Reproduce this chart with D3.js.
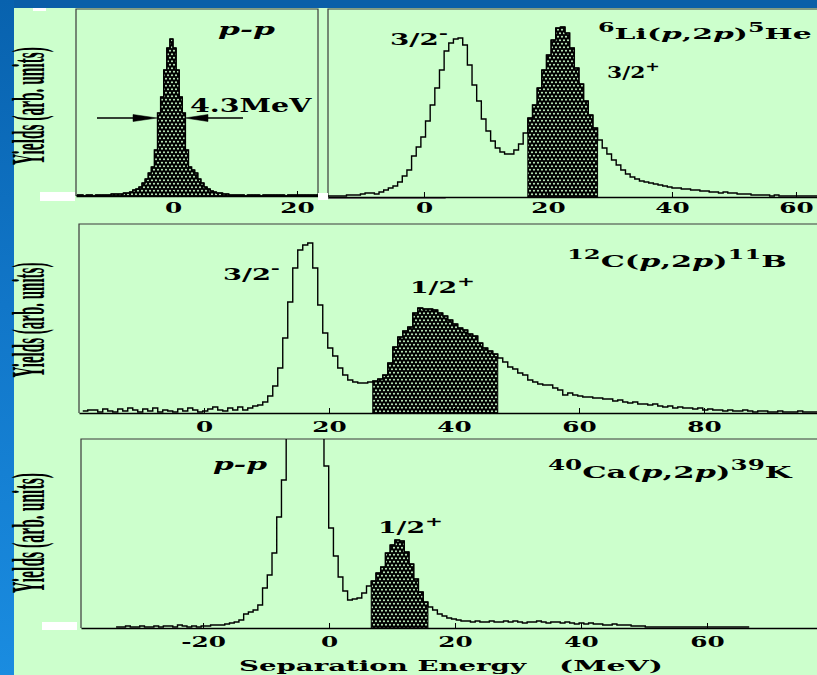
<!DOCTYPE html>
<html><head><meta charset="utf-8">
<script src="https://cdn.jsdelivr.net/npm/d3@7"></script>
<style>body{margin:0;background:#ccffcc;} svg{display:block}</style>
</head><body><svg id="c" width="817" height="675"></svg>
<script>
// ---------------- DATA ----------------
// p-p elastic peak (top-left), bins of 0.5 MeV starting at -15.5 MeV
const ppStart = -15.5, ppBin = 0.5;
const ppCounts = [1,1,0,1,1,0,1,1,1,1,1,
  2,2,2,2,3,3,4,6,7,9,13,17,23,29,46,83,99,126,148,157,
  148,126,99,83,46,29,26,23,17,13,9,7,5,4,3,3,2,2,1,1,
  1,1,1,0,1,1,1,1,0,1,1,1,1,1,1,1,0,1,1,1,1,1,1,1,1,1,1];
const ppRange = [-15.65, 23.39], ppTicks = [0, 20], ppShade = [-15.5, 24];

// 6Li(p,2p)5He (top-right), bins of 0.75 MeV starting at -15.5 MeV
const liStart = -15.5, liBin = 0.75;
const liCounts = [1,1,1,1,2,2,2,3,4,4,
  3,5,7,9,11,15,21,27,41,50,
  60,76,92,109,127,146,154,158,159,152,
  132,112,96,78,66,56,49,45,43,43,
  47,53,64,79,92,109,127,142,157,169,
  170,164,149,129,113,96,82,69,57,49,
  43,37,32,27,23,20,18,16,15,14,
  13,12,11,10,9,9,8,8,7,7,
  6,6,5,5,4,5,4,4,3,3,
  3,2,2,2,2,1,2,1,1,1,
  1,1,1,1,1,1];
const liRange = [-15.48, 63.39], liTicks = [0, 20, 40, 60], liShade = [16.75, 28];

// 12C(p,2p)11B (middle), bins of 0.8 MeV starting at -19.4 MeV
const cStart = -19.4, cBin = 0.8;
const cCounts = [2,3,3,1,4,2,1,4,2,5,
  3,1,4,2,5,1,3,2,1,4,
  2,5,3,1,2,4,6,3,2,5,
  3,6,3,5,7,8,11,17,27,45,
  75,111,145,163,168,170,145,108,80,65,
  57,45,38,33,31,30,30,31,32,34,
  38,50,66,76,82,86,100,105,104,104,
  103,100,97,93,89,85,83,79,77,70,
  65,62,59,55,51,46,44,40,38,33,
  31,29,28,28,25,23,18,20,18,17,
  16,16,15,15,14,14,12,13,11,10,
  11,9,9,8,9,7,6,7,5,6,
  5,5,4,5,3,4,3,3,2,3,
  2,2,3,2,1,2,2,1,1,2,
  1,1,1,2,1,1,1];
const cRange = [-20, 98.08], cTicks = [0, 20, 40, 60, 80], cShade = [27, 47];

// 40Ca(p,2p)39K (bottom), bins of 0.75 MeV starting at -33.8 MeV
const caStart = -33.8, caBin = 0.75;
const caCounts = [1,1,2,1,1,2,1,1,2,1,
  2,2,1,3,2,1,2,1,2,2,
  3,3,3,4,5,6,8,14,16,18,
  23,40,53,75,111,148,230,300,330,340,
  345,330,300,210,162,100,72,51,37,28,
  29,30,35,42,47,55,61,75,83,88,
  87,76,64,49,36,26,21,18,14,12,
  10,9,8,7,7,6,7,6,6,7,
  6,6,7,6,7,6,5,6,6,7,
  6,5,6,6,5,6,5,4,5,4,
  5,4,4,3,3,4,3,3,3,2,
  2,2,1,1,1,1,1,1,1,1,
  1,1,1,1,1,1,1,1,1,1,
  1,1,1,1];
const caRange = [-39.37, 77.46], caTicks = [-20, 0, 20, 40, 60], caShade = [6.7, 15.7];

const yLabelText = "Yields (arb. units)";
const xTitle = ["Separation Energy", "(MeV)"];

// ---------------- DRAWING ----------------
const SERIF = "'DejaVu Serif', serif";
const GREEN = "#ccffcc";
const svg = d3.select("#c");
const defs = svg.append("defs");

svg.append("rect").attr("width", 817).attr("height", 675).attr("fill", GREEN);
const grad = defs.append("linearGradient").attr("id", "blueg").attr("x1", 0).attr("y1", 0).attr("x2", 0).attr("y2", 1);
grad.append("stop").attr("offset", "0%").attr("stop-color", "#0862ae");
grad.append("stop").attr("offset", "45%").attr("stop-color", "#1176c8");
grad.append("stop").attr("offset", "100%").attr("stop-color", "#1a8ce0");
svg.append("rect").attr("x", 0).attr("y", 0).attr("width", 817).attr("height", 8).attr("fill", "#0a5fa8");
svg.append("rect").attr("x", 0).attr("y", 0).attr("width", 14).attr("height", 675).attr("fill", "url(#blueg)");

// cross-hatch pattern: black net with staggered diamond holes
const pat = defs.append("pattern").attr("id", "xh").attr("patternUnits", "userSpaceOnUse").attr("width", 4).attr("height", 7);
pat.append("rect").attr("width", 4).attr("height", 7).attr("fill", "#000");
pat.append("path").attr("d",
  "M2,0.5L3.2,1.75L2,3L0.8,1.75Z M0,4L1.2,5.25L0,6.5L-1.2,5.25Z M4,4L5.2,5.25L4,6.5L2.8,5.25Z")
  .attr("fill", GREEN);

function drawPanel(P) {
  const x = d3.scaleLinear().domain(P.range).range([P.left, P.right]);
  const y = d3.scaleLinear().domain([0, P.ymax]).range([P.bottom, P.top]);
  const id = "clip" + P.name;
  defs.append("clipPath").attr("id", id).append("rect")
    .attr("x", P.left).attr("y", P.top).attr("width", P.right - P.left).attr("height", P.bottom - P.top);
  const g = svg.append("g");
  g.append("path")
    .attr("d", `M${P.left},${P.bottom}V${P.top}H${P.right}` + (P.rightBorder ? `V${P.bottom}` : ""))
    .attr("fill", "none").attr("stroke", "#3a3a3a").attr("stroke-width", 1.2);
  const pts = P.counts.map((c, i) => [P.start + i * P.bin, c]);
  pts.push([P.start + P.counts.length * P.bin, P.counts[P.counts.length - 1]]);
  const i0 = Math.round((P.shade[0] - P.start) / P.bin), i1 = Math.min(P.counts.length, Math.round((P.shade[1] - P.start) / P.bin));
  const sh = pts.slice(i0, i1);
  sh.push([P.start + i1 * P.bin, P.counts[i1 - 1]]);
  const cg = g.append("g").attr("clip-path", `url(#${id})`);
  const area = d3.area().x(d => x(d[0])).y0(y(0)).y1(d => y(d[1])).curve(d3.curveStepAfter);
  cg.append("path").attr("d", area(sh)).attr("fill", "url(#xh)").attr("stroke", "#000").attr("stroke-width", 1);
  const line = d3.line().x(d => x(d[0])).y(d => y(d[1])).curve(d3.curveStepAfter);
  cg.append("path").attr("d", line(pts)).attr("fill", "none").attr("stroke", "#000").attr("stroke-width", 1.4);
  if (P.grey) {
    g.append("line").attr("x1", x(P.grey[0])).attr("x2", x(P.grey[1])).attr("y1", P.bottom + 1).attr("y2", P.bottom + 1)
      .attr("stroke", "#808080").attr("stroke-width", 2);
  }
  const ax = g.append("g").attr("transform", `translate(0,${P.bottom})`)
    .call(d3.axisBottom(x).tickValues(P.ticks).tickSizeInner(-5).tickSizeOuter(0).tickFormat(d => String(d)));
  ax.select(".domain").attr("stroke", "#000").attr("stroke-width", 1.6);
  ax.selectAll(".tick line").attr("stroke", "#000").attr("stroke-width", 1);
  ax.selectAll(".tick text").attr("y", 0).attr("dy", null)
    .attr("transform", `translate(0,${P.labelOff}) scale(1.65,1)`)
    .attr("font-family", SERIF).attr("font-weight", "bold").attr("font-size", 15).attr("fill", "#000");
}

drawPanel({name: "pp", left: 76, right: 318, top: 9, bottom: 196, rightBorder: true, range: ppRange, ymax: 187,
  start: ppStart, bin: ppBin, counts: ppCounts, shade: ppShade, ticks: ppTicks, labelOff: 17});
drawPanel({name: "li", left: 328, right: 817, top: 9, bottom: 197, range: liRange, ymax: 188,
  start: liStart, bin: liBin, counts: liCounts, shade: liShade, ticks: liTicks, labelOff: 16, grey: [-15.48, 3.5]});
drawPanel({name: "c", left: 79, right: 817, top: 224, bottom: 413, range: cRange, ymax: 189,
  start: cStart, bin: cBin, counts: cCounts, shade: cShade, ticks: cTicks, labelOff: 19});
drawPanel({name: "ca", left: 81, right: 817, top: 439, bottom: 628, range: caRange, ymax: 189,
  start: caStart, bin: caBin, counts: caCounts, shade: caShade, ticks: caTicks, labelOff: 19});

// white blemishes
[[33, 8, 13, 3], [40, 192, 35, 9], [318, 193, 10, 7], [42, 622, 35, 8]].forEach(r =>
  svg.append("rect").attr("x", r[0]).attr("y", r[1]).attr("width", r[2]).attr("height", r[3]).attr("fill", "#fff"));

// rich text fitted to width
function fitLabel(parts, x0, x1, baseline, fs, italicAll) {
  const g = svg.append("g");
  const t = g.append("text").attr("font-family", SERIF).attr("font-size", fs).attr("font-weight", "bold").attr("fill", "#000");
  if (italicAll) t.attr("font-style", "italic");
  let raised = false;
  parts.forEach(([s, k]) => {
    const ts = t.append("tspan").text(s);
    if (k === "sup") {
      ts.attr("font-size", fs * 0.8);
      if (!raised) ts.attr("dy", -fs * 0.45);
      raised = true;
    } else {
      if (raised) { ts.attr("dy", fs * 0.45); raised = false; }
      if (k === "it") ts.attr("font-style", "italic");
    }
  });
  const bb = t.node().getBBox();
  const s = (x1 - x0) / bb.width;
  g.attr("transform", `translate(${x0 - bb.x * s},${baseline}) scale(${s},1)`);
}

fitLabel([["p-p", "it"]], 218, 275, 35, 16, true);
fitLabel([["4.3MeV", ""]], 190, 313, 112, 18);
fitLabel([["3/2", ""], ["-", "sup"]], 390, 448, 45, 16.5);
fitLabel([["6", "sup"], ["Li(", ""], ["p", "it"], [",2", ""], ["p", "it"], [")", ""], ["5", "sup"], ["He", ""]], 598, 812, 39, 15.5);
fitLabel([["3/2", ""], ["+", "sup"]], 607, 660, 78, 16.5);
fitLabel([["3/2", ""], ["-", "sup"]], 223, 280, 280, 16.5);
fitLabel([["1/2", ""], ["+", "sup"]], 410, 475, 293, 16.5);
fitLabel([["12", "sup"], ["C(", ""], ["p", "it"], [",2", ""], ["p", "it"], [")", ""], ["11", "sup"], ["B", ""]], 567, 787, 267, 17);
fitLabel([["p-p", "it"]], 213, 267, 470, 16, true);
fitLabel([["1/2", ""], ["+", "sup"]], 378, 443, 533, 16.5);
fitLabel([["40", "sup"], ["Ca(", ""], ["p", "it"], [",2", ""], ["p", "it"], [")", ""], ["39", "sup"], ["K", ""]], 548, 793, 478, 17.5);
fitLabel([[xTitle[0], ""]], 239, 528, 671, 15.5);
fitLabel([[xTitle[1], ""]], 559, 663, 671, 15.5);

// FWHM arrows
const arr = svg.append("g").attr("stroke", "#000").attr("fill", "#000");
arr.append("line").attr("x1", 97).attr("x2", 150).attr("y1", 118).attr("y2", 118).attr("stroke-width", 1.3);
arr.append("path").attr("d", "M157,118L133,114.5L133,121.5Z").attr("stroke-width", 0.5);
arr.append("line").attr("x1", 192).attr("x2", 243).attr("y1", 118).attr("y2", 118).attr("stroke-width", 1.3);
arr.append("path").attr("d", "M185,118L208,114.5L208,121.5Z").attr("stroke-width", 0.5);

// rotated y labels
function yLabel(cx, cy, len) {
  const g = svg.append("g");
  const t = g.append("text").attr("font-family", "'Liberation Serif', serif").attr("font-size", 46)
    .attr("font-weight", "bold").attr("fill", "#000").text(yLabelText);
  const bb = t.node().getBBox();
  const s = len / bb.width;
  g.attr("transform", `translate(${cx},${cy}) rotate(-90) scale(${s},1) translate(${-(bb.x + bb.width / 2)},0)`);
}
yLabel(44, 106, 118);
yLabel(44, 320, 115);
yLabel(44, 533, 120);
</script></body></html>
